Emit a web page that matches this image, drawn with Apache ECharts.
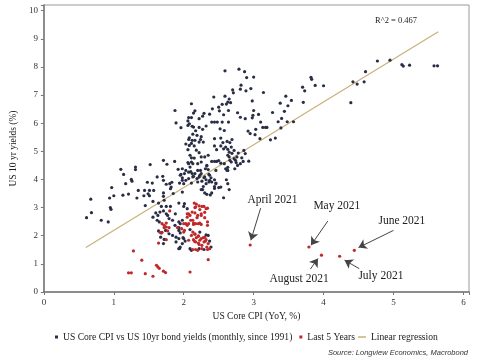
<!DOCTYPE html>
<html>
<head>
<meta charset="utf-8">
<script src="https://cdn.jsdelivr.net/npm/echarts@6/dist/echarts.min.js"></script>
<style>html,body{margin:0;padding:0;background:#fff;}#c{width:480px;height:360px;}</style>
</head>
<body>
<div id="c"></div>
<script>
// US Core CPI (YoY, %) vs US 10yr yield (%), monthly since 1991
var allMonths = [
[3.70,7.28],[3.73,7.15],[3.71,6.74],[3.82,7.63],[3.83,7.56],[3.88,7.34],[4.00,7.33],[4.39,6.73],[4.42,7.47],[4.48,7.39],[4.58,7.47],[4.60,7.83],[4.77,8.21],[4.95,8.24],[5.12,8.08],[5.14,8.03],[5.23,8.06],[5.58,8.04],[5.63,8.04],
[3.00,7.64],[2.90,7.62],[2.96,7.23],[3.14,7.09],[2.98,6.79],[3.00,6.45],[2.99,6.28],[2.98,6.19],[3.07,6.31],[3.10,6.04],[2.92,5.72],[2.95,5.63],[3.03,5.78],[3.02,5.59],[3.13,5.85],[3.17,5.85],[3.19,5.85],[3.09,5.45],[3.24,5.41],[3.31,5.47],[3.27,6.38],[3.35,6.05],[3.38,6.71],[3.40,6.17],[3.39,5.83],[3.44,6.42],[3.46,6.96],[3.49,6.62],[3.48,6.05],[3.54,6.81],[3.57,6.05],[2.93,4.65],
[2.59,7.86],[2.79,7.92],[2.87,7.83],[2.82,7.35],[2.81,7.21],[2.89,7.15],[2.70,7.18],[2.71,7.08],[2.43,6.93],[2.59,6.96],[2.65,6.86],[2.63,6.75],[2.61,6.68],[2.67,6.73],[2.55,6.67],[2.50,6.57],[2.41,6.51],[2.51,6.44],[2.64,6.45],[2.11,6.69],[2.16,6.44],[2.29,6.35],[2.27,6.25],[2.37,6.32],[2.22,6.16],[2.07,6.20],[2.57,6.30],[2.77,6.37],[2.81,6.21],[2.88,6.16],[2.40,6.04],[2.44,6.04],[2.48,6.04],[2.55,6.04],[2.64,6.04],[2.08,5.98],[2.12,5.89],[2.14,5.86],[2.17,5.73],[2.22,5.85],[2.27,5.78],[2.32,5.90],[2.13,5.61],[2.19,5.57],[2.25,5.52],[2.24,5.42],[2.22,5.33],[2.52,5.80],[2.58,5.74],[2.07,5.42],[2.11,5.28],[2.08,5.21],[2.16,5.39],[2.15,5.19],[2.18,5.04],[2.28,5.33],[2.44,5.45],[2.53,5.47],[2.56,5.31],[2.62,5.35],[2.66,5.31],[2.69,5.42],[2.44,5.19],[2.47,5.06],[2.53,5.19],[2.57,5.09],[2.60,5.15],[2.63,5.07],[2.68,5.15],[2.65,4.97],[2.69,4.93],[2.72,5.03],[2.78,4.94],[2.76,4.80],[2.72,4.74],[2.63,4.86],[2.65,4.80],[2.66,4.68],[2.35,4.86],[2.30,4.80],[2.22,4.95],[2.25,4.80],[2.15,4.76],[2.11,4.62],[2.13,4.56],[2.20,4.56],[2.25,4.62],[2.33,4.48],[2.31,4.38],[2.40,4.64],[2.44,4.64],[2.47,4.64],[2.50,4.67],[2.07,4.56],[2.09,4.44],[2.58,4.56],[2.60,4.38],[2.63,4.43],[2.75,4.60],[2.85,4.64],[2.73,4.38],[2.46,4.32],[2.24,4.32],
[1.875,6.45],[1.89,6.01],[1.96,5.84],[2.06,5.92],[2.03,5.26],[1.71,4.68],[1.76,4.54],[1.87,4.64],[1.52,4.53],[1.31,4.44],[1.31,4.35],[1.10,4.36],[1.70,4.11],[1.95,4.15],[1.98,4.06],[2.06,5.06],[2.08,5.48],[2.12,5.39],[2.09,4.86],[2.11,4.77],[1.98,4.38],[2.03,4.32],[2.07,4.26],[2.12,4.21],[2.14,4.11],[2.20,4.32],[1.92,4.36],[2.06,4.60],[2.11,6.20],[2.06,6.08],[2.14,6.36],
[1.14,4.18],[1.25,4.00],[1.26,3.94],[0.97,3.71],[1.17,3.85],[0.67,3.30],[0.94,3.34],[1.00,3.42],[1.13,3.44],[1.21,3.48],[0.95,3.00],[0.96,2.94],[0.61,2.64],[0.68,2.82],[0.82,2.55],[0.92,2.49],[1.35,3.61],[1.33,3.34],[1.48,3.90],[1.55,3.87],[1.43,3.42],[1.49,3.49],[1.51,3.42],[1.51,3.61],[1.45,3.07],[1.62,4.09],[1.56,3.22],[1.71,3.52],[1.71,3.40],[1.72,3.26],[1.75,3.83],[1.80,3.85],[1.82,3.73],[1.85,3.50],[1.93,3.16],[2.01,4.21],[2.03,3.97],[2.00,3.85],[1.64,3.16],[1.68,3.04],[1.75,3.04],[1.81,3.04],[1.56,2.66],[1.60,2.81],[1.63,2.72],[1.66,2.84],[1.71,2.88],[1.62,2.55],[1.65,2.49],[1.75,2.78],[1.77,2.72],[1.79,2.61],[1.64,2.17],[1.68,2.10],[1.74,2.19],[1.67,1.95],[1.72,1.87],[1.71,1.72],[1.79,2.07],[1.84,2.01],[1.89,1.95],[1.89,1.78],[1.93,1.90],[1.93,1.54],[1.95,1.60],[1.98,1.72],[2.00,1.90],[1.93,2.49],[1.95,2.43],[1.84,2.55],[1.875,2.37],[1.88,2.78],[2.00,3.04],[2.01,3.14],[2.05,2.96],[1.98,2.55],[1.93,2.19],
[1.44,3.61],[1.57,3.61],[1.71,3.97],[1.83,3.90],[1.81,3.67],[1.96,4.18],[1.98,3.97],[2.07,4.03],[2.10,4.28],[2.13,4.09],[1.94,3.87],[1.98,3.55],[2.19,4.03],[2.20,3.91],[2.23,4.15],[2.26,3.94],[2.30,4.09],[2.32,3.85],[2.27,3.64],[2.33,3.47],[2.37,4.15],[2.37,3.97],[2.35,4.35],[2.33,4.50],[2.53,4.58],[2.63,4.32],[2.61,3.99],[2.63,3.85],[2.65,3.64],[2.57,3.35],[2.68,4.62],[2.74,4.68],[2.77,4.50],[2.81,4.56],[2.83,4.77],[2.44,3.75],[2.46,3.87],[2.40,3.52],[2.53,3.73],[2.88,4.92],[2.86,5.03],
[1.93,2.29],[1.95,2.10],[1.99,1.93],[1.94,1.55],[2.02,1.81],[2.11,1.48],[2.32,2.03],[2.22,1.54],[2.39,1.60],[2.09,2.22],[2.23,2.13],[2.35,2.01],[2.37,1.81],[2.29,1.51],[2.09,1.54],
[2.16,4.21],[2.25,4.21],[2.22,4.09],[2.29,4.06],[2.32,3.99],[2.36,4.18],[2.39,4.06],[2.36,3.91],[2.40,3.91],[2.44,3.99],[2.46,3.85],[2.50,3.71],[2.44,3.68],[2.38,3.45],[2.30,3.52],[2.25,3.64],[2.28,3.75],[2.11,3.87],[2.62,4.32]
];
var lastFiveYears = [
[2.95,1.67],[3.79,1.60],[4.44,1.48],[4.23,1.27],[3.97,1.31],
[1.80,2.88],[1.64,1.74],[1.28,1.46],[1.40,1.13],[1.61,0.95],[1.63,0.89],[1.65,0.84],[1.71,0.74],[1.21,0.68],[1.25,0.68],[1.45,0.65],[1.56,0.56],[1.74,0.69],
[1.97,2.25],[2.01,2.19],[2.03,2.43],[2.05,2.37],[2.00,2.13],[1.91,2.29],[1.69,2.43],[1.72,2.37],[1.75,2.45],[1.75,2.31],[1.72,2.29],[1.79,2.29],[1.77,2.17],[1.66,2.12],[1.69,2.12],
[2.15,3.16],[2.18,3.12],[2.16,3.00],[2.23,2.93],[2.26,3.04],[2.30,2.83],[2.34,2.98],[2.25,2.72],[2.19,2.64],[2.09,2.72],[2.07,2.78],[2.05,2.66],[2.10,2.55],[2.14,2.40],[2.21,2.43],[2.25,2.40],[2.34,2.49],
[2.13,2.13],[2.16,2.07],[2.18,1.93],[2.21,1.98],[2.23,1.84],[2.25,1.90],[2.28,1.93],[2.29,1.78],[2.32,1.86],[2.35,1.72],[2.33,1.60],[2.26,1.54],[2.22,1.69],[2.17,1.78],[2.14,1.86],[2.07,1.84],[2.11,2.01],[2.17,1.51],[2.37,1.54],[2.35,1.15],[2.09,0.71],
[2.17,3.02],[2.22,3.06],[2.29,3.04],[2.16,2.81],[2.20,2.72],[2.25,2.78],[2.30,2.64],[2.13,2.55],[2.17,2.43],[2.23,2.45],[2.34,2.37],[2.16,2.05],[2.21,2.00],[2.30,1.95],[2.31,1.81],[2.26,1.66],[2.21,1.74],[2.15,1.81],[2.13,1.51],[2.34,1.51],[2.20,1.48],
[2.05,2.78],[2.12,2.84],[2.32,2.96],[2.07,2.43],[2.14,2.45],[2.00,2.43],[1.75,1.86]
];
var regressionLine = [[0.60,1.58],[5.64,9.25]];
// annotation labels [x, y, text] and arrows [x0, y0, x1, y1]
var noteLabels = [[3.27,3.28,'April 2021'],[4.19,3.04,'May 2021'],[5.12,2.52,'June 2021'],[4.82,0.56,'July 2021'],[3.65,0.48,'August 2021']];
var noteArrows = [[3.10,2.98,2.96,1.84],[4.06,2.52,3.82,1.66],[5.00,2.19,4.50,1.58],[4.51,0.83,4.30,1.13],[3.81,0.81,3.92,1.19]];
var xTicks = [0,1,2,3,4,5,6];
var yTicks = [0,1,2,3,4,5,6,7,8,9,10];

var SERIF = "'Liberation Serif', 'Times New Roman', serif";
var chart = echarts.init(document.getElementById('c'), null, {renderer:'canvas'});
var intLabel = function(list){ return function(v){ return list.indexOf(v) >= 0 ? String(v) : ''; }; };
chart.setOption({
  animation: false,
  backgroundColor: '#fff',
  title: [
    {text: 'R^2 = 0.467', left: 370, top: 11, textStyle: {fontFamily: SERIF, fontSize: 8.5, fontWeight: 'normal', color: '#222'}},
    {text: 'Source: Longview Economics, Macrobond', right: 7, top: 344, textStyle: {fontFamily: "'Liberation Sans', Arial, sans-serif", fontStyle: 'italic', fontSize: 7.5, fontWeight: 'normal', color: '#333'}}
  ],
  grid: {left: 31, right: 11, top: 5, bottom: 68, show: true, borderColor: '#999', borderWidth: 1, containLabel: false},
  xAxis: {
    type: 'value', min: 0, max: 6.08, interval: 1,
    name: 'US Core CPI (YoY, %)', nameLocation: 'middle', nameGap: 17,
    nameTextStyle: {fontFamily: SERIF, fontSize: 9.5, color: '#222'},
    axisLine: {show: true, lineStyle: {color: '#777', width: 1.5}},
    axisTick: {show: true, length: 3, lineStyle: {color: '#777'}},
    axisLabel: {formatter: intLabel(xTicks), fontFamily: SERIF, fontSize: 9, color: '#333', margin: 6},
    splitLine: {show: false}
  },
  yAxis: {
    type: 'value', min: 0, max: 10.2, interval: 1,
    name: 'US 10 yr yields (%)', nameLocation: 'middle', nameGap: 22,
    nameTextStyle: {fontFamily: SERIF, fontSize: 9.5, color: '#222'},
    axisLine: {show: true, lineStyle: {color: '#777', width: 1.5}},
    axisTick: {show: true, length: 3, lineStyle: {color: '#777'}},
    axisLabel: {formatter: intLabel(yTicks), fontFamily: SERIF, fontSize: 9, color: '#333', margin: 6},
    splitLine: {show: false}
  },
  legend: [
    {data: ['US Core CPI vs US 10yr bond yields (monthly, since 1991)', 'Last 5 Years'], left: 50, top: 327,
     icon: 'rect', itemWidth: 3, itemHeight: 3, itemGap: 7,
     textStyle: {fontFamily: SERIF, fontSize: 9.6, color: '#222'}},
    {data: ['Linear regression'], left: 353, top: 327,
     icon: 'rect', itemWidth: 8, itemHeight: 1.5, itemGap: 7,
     textStyle: {fontFamily: SERIF, fontSize: 9.6, color: '#222'}}
  ],
  series: [
    {name: 'Linear regression', type: 'line', data: regressionLine, showSymbol: false, symbol: 'none',
     lineStyle: {color: '#c9b07a', width: 1.2}, itemStyle: {color: '#c9b07a'}, z: 1, silent: true},
    {name: 'US Core CPI vs US 10yr bond yields (monthly, since 1991)', type: 'scatter', data: allMonths,
     symbol: 'circle', symbolSize: 3.2, itemStyle: {color: '#2a2e45', opacity: 1}, z: 2},
    {name: 'Last 5 Years', type: 'scatter', data: lastFiveYears,
     symbol: 'circle', symbolSize: 3.2, itemStyle: {color: '#c0282a', opacity: 1}, z: 3,
     markPoint: {
       symbol: 'circle', symbolSize: 1, itemStyle: {color: 'rgba(0,0,0,0)'}, silent: true,
       label: {show: true, position: 'inside', formatter: '{b}', fontFamily: SERIF, fontSize: 11.5, color: '#222'},
       data: noteLabels.map(function(n){ return {name: n[2], coord: [n[0], n[1]]}; })
     },
     markLine: {
       silent: true, symbol: ['none', 'arrow'], symbolSize: 8,
       lineStyle: {color: '#444', width: 1, type: 'solid'},
       itemStyle: {color: '#444'}, label: {show: false},
       data: noteArrows.map(function(a){ return [{coord: [a[0], a[1]]}, {coord: [a[2], a[3]]}]; })
     }}
  ]
});
</script>
</body>
</html>
